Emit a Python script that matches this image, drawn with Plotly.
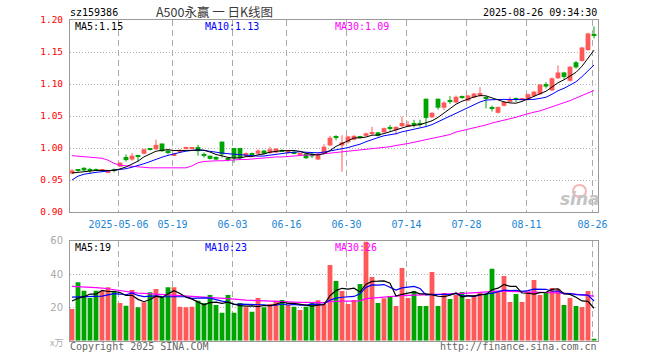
import numpy as np
import pandas as pd
import plotly.graph_objects as go

# ---------------- data ----------------
opens = [0.960, 0.9655, 0.969, 0.9655, 0.9665, 0.9645, 0.962, 0.9655, 0.971, 0.986,
         0.982, 0.988, 0.991, 1.000, 0.998, 1.007, 0.996, 0.989, 0.995, 1.000,
         0.9995, 1.0015, 0.990, 0.988, 0.986, 1.010, 0.9835, 1.000, 1.000, 0.987,
         0.9915, 0.991, 0.996, 0.992, 0.993, 0.9965, 0.992, 0.994, 0.9905, 0.991,
         0.991, 0.982, 0.992, 1.004, 1.0175, 1.004, 1.009, 1.013, 1.0175, 1.019,
         1.0225, 1.0245, 1.0245, 1.0315, 1.028, 1.034, 1.034, 1.038, 1.038, 1.077,
         1.048, 1.077, 1.063, 1.074, 1.071, 1.0795, 1.074, 1.079, 1.0835, 1.0785,
         1.0635, 1.055, 1.066, 1.072, 1.0765, 1.0755, 1.076, 1.081, 1.084, 1.100,
         1.090, 1.109, 1.118, 1.105, 1.134, 1.136, 1.153, 1.178]
closes = [0.965, 0.9645, 0.965, 0.9645, 0.9655, 0.9655, 0.964, 0.9645, 0.977, 0.981,
          0.988, 0.987, 0.998, 0.997, 1.005, 0.995, 0.992, 0.991, 0.997, 1.001,
          1.0005, 0.995, 0.989, 0.983, 0.982, 0.990, 0.9825, 0.984, 0.984, 0.992,
          0.9905, 0.996, 0.991, 0.998, 0.999, 0.9955, 0.996, 0.992, 0.9915, 0.984,
          0.987, 0.991, 1.002, 1.016, 1.0165, 1.009, 1.018, 1.019, 1.0165, 1.023,
          1.0235, 1.019, 1.031, 1.0305, 1.033, 1.039, 1.037, 1.037, 1.037, 1.047,
          1.055, 1.063, 1.071, 1.073, 1.080, 1.0785, 1.082, 1.085, 1.0845, 1.0775,
          1.0625, 1.064, 1.072, 1.076, 1.0755, 1.0765, 1.084, 1.088, 1.099, 1.096,
          1.109, 1.118, 1.111, 1.127, 1.126, 1.157, 1.179, 1.175]
highs = [0.967, 0.967, 0.970, 0.969, 0.968, 0.966, 0.965, 0.968, 0.978, 0.990,
         0.992, 0.988, 0.999, 1.000, 1.013, 1.007, 0.998, 0.992, 0.998, 1.002,
         1.001, 1.005, 0.993, 0.988, 0.987, 1.010, 0.986, 1.000, 1.000, 0.993,
         0.993, 0.998, 0.997, 1.002, 1.000, 0.998, 0.997, 0.995, 0.992, 0.992,
         0.992, 0.992, 1.006, 1.019, 1.020, 1.020, 1.019, 1.020, 1.019, 1.024,
         1.033, 1.025, 1.032, 1.036, 1.034, 1.049, 1.042, 1.044, 1.044, 1.077,
         1.056, 1.077, 1.073, 1.081, 1.082, 1.082, 1.083, 1.086, 1.095, 1.081,
         1.066, 1.065, 1.073, 1.080, 1.079, 1.078, 1.085, 1.089, 1.100, 1.103,
         1.110, 1.129, 1.119, 1.128, 1.136, 1.158, 1.180, 1.190]
lows = [0.959, 0.963, 0.964, 0.961, 0.964, 0.963, 0.961, 0.962, 0.970, 0.979,
        0.980, 0.979, 0.990, 0.996, 0.997, 0.994, 0.990, 0.988, 0.994, 0.999,
        0.998, 0.988, 0.985, 0.982, 0.981, 0.985, 0.979, 0.977, 0.982, 0.986,
        0.988, 0.990, 0.990, 0.991, 0.992, 0.994, 0.991, 0.991, 0.988, 0.983,
        0.984, 0.981, 0.991, 1.003, 1.012, 0.963, 1.007, 1.012, 1.015, 1.018,
        1.020, 1.018, 1.024, 1.027, 1.021, 1.033, 1.033, 1.032, 1.033, 1.033,
        1.047, 1.060, 1.059, 1.069, 1.070, 1.077, 1.073, 1.078, 1.080, 1.062,
        1.057, 1.054, 1.065, 1.071, 1.072, 1.074, 1.074, 1.080, 1.083, 1.093,
        1.089, 1.108, 1.108, 1.104, 1.124, 1.135, 1.152, 1.171]
volumes = [19, 35, 30, 25.6, 30, 30, 32, 30, 22.6, 21,
           30.4, 20, 23, 29, 31, 26, 32, 32, 20.4, 20,
           20.4, 24, 22.6, 27.4, 21.4, 16.8, 27.4, 16.8, 22.6, 20,
           17.4, 25.6, 20, 22, 24, 24.4, 21.4, 20.4, 18.4, 20.4,
           23, 24.2, 22, 45.4, 35.8, 29.8, 22, 24.4, 34, 59.4,
           38.2, 22.6, 25.4, 26.8, 20.8, 43.6, 25.6, 29.8, 20.8, 20.8,
           41.2, 20.8, 28.6, 25, 27.4, 29.2, 25, 27.4, 29.2, 28,
           43.2, 29.8, 38.8, 23.2, 28, 23.2, 29.2, 36.4, 27.4, 29.2,
           31.6, 31.2, 21.4, 25.6, 20.8, 20.2, 29.8, 1]

ma5_head = [0.961, 0.962, 0.964, 0.965]
ma10_head = [0.950, 0.956, 0.959, 0.961, 0.962, 0.963, 0.964, 0.965, 0.966]
ma30 = [0.988, 0.987, 0.987, 0.986, 0.985, 0.984, 0.981, 0.976, 0.973, 0.972,
        0.971, 0.970, 0.969, 0.969, 0.969, 0.969, 0.969, 0.969, 0.969, 0.969,
        0.972, 0.977, 0.979, 0.980, 0.980, 0.980, 0.981, 0.981, 0.982, 0.982,
        0.983, 0.983, 0.984, 0.985, 0.986, 0.986, 0.987, 0.988, 0.988, 0.989,
        0.989, 0.990, 0.990, 0.991, 0.992, 0.993, 0.994, 0.995, 0.996, 0.997,
        0.998, 0.999, 1.000, 1.002, 1.004, 1.005, 1.007, 1.009, 1.011, 1.013,
        1.015, 1.017, 1.019, 1.021, 1.025, 1.027, 1.030, 1.032, 1.034, 1.036,
        1.039, 1.041, 1.043, 1.045, 1.048, 1.051, 1.054, 1.056, 1.058, 1.061,
        1.064, 1.067, 1.070, 1.074, 1.078, 1.082, 1.086, 1.090]
vol_ma5_head = [23.8, 25.5, 26.4, 28.0]
vol_ma10_head = [26.2, 26.3, 26.4, 26.5, 26.6, 26.8, 27.5, 28.2, 28.0]
vol_ma30 = [32.6, 32.5, 32.4, 32.3, 31.9, 31.6, 31.1, 30.6, 30.0, 29.4,
            28.9, 28.6, 28.4, 28.2, 28.0, 27.8, 27.6, 27.3, 27.1, 26.8,
            26.6, 26.4, 26.2, 26.0, 25.8, 25.5, 25.2, 24.9, 24.5, 24.3,
            24.2, 24.0, 23.8, 23.7, 23.5, 23.4, 23.3, 23.2, 23.0, 23.0,
            22.9, 22.9, 22.8, 23.5, 23.8, 23.8, 23.8, 23.8, 23.9, 25.2,
            25.6, 25.8, 26.2, 26.5, 26.8, 27.0, 27.1, 27.2, 27.3, 27.4,
            27.6, 27.7, 27.9, 28.0, 28.2, 28.4, 28.6, 28.9, 29.2, 29.5,
            29.8, 29.8, 29.7, 29.6, 29.5, 29.5, 29.4, 29.3, 29.2, 29.0,
            28.9, 28.8, 28.5, 28.2, 27.9, 27.6, 27.3, 26.8]

tick_index = [8, 17, 27, 36, 46, 56, 66, 76, 87]
tick_labels = ["2025-05-06", "05-19", "06-03", "06-16", "06-30",
               "07-14", "07-28", "08-11", "08-26"]
price_ticks = [0.90, 0.95, 1.00, 1.05, 1.10, 1.15, 1.20]
vol_ticks = [20, 40, 60]

code = "sz159386"
title = "A500永赢 一 日K线图"
stamp = "2025-08-26 09:34:30"

# ---------------- derived ----------------
o = np.array(opens); c = np.array(closes); h = np.array(highs); l = np.array(lows)
v = np.array(volumes, dtype=float)
n = len(c)
idx = np.arange(n)
up = c >= o

ma5 = pd.Series(c).rolling(5).mean().to_numpy(); ma5[:4] = ma5_head
ma10 = pd.Series(c).rolling(10).mean().to_numpy(); ma10[:9] = ma10_head
vma5 = pd.Series(v).rolling(5).mean().to_numpy(); vma5[:4] = vol_ma5_head
vma10 = pd.Series(v).rolling(10).mean().to_numpy(); vma10[:9] = vol_ma10_head

RED = "#ff5858"
GREEN = "#00a400"
MONO = "DejaVu Sans Mono"

W, H = 660, 360
X0, X1 = 70, 598
PY0, PY1 = 20, 212
VY0, VY1 = 240.7, 340.7

fig = go.Figure()

# wicks
for mask, col in ((up, RED), (~up, GREEN)):
    xs, ys = [], []
    for i in idx[mask]:
        xs += [i, i, None]
        ys += [l[i], h[i], None]
    fig.add_trace(go.Scatter(x=xs, y=ys, mode="lines", line=dict(color=col, width=1),
                             hoverinfo="skip", xaxis="x", yaxis="y"))

# bodies
minh = 0.0016
body = np.abs(c - o)
bh = np.maximum(body, minh)
mid = (c + o) / 2
base = mid - bh / 2
for mask, col in ((up, RED), (~up, GREEN)):
    fig.add_trace(go.Bar(x=idx[mask], y=bh[mask], base=base[mask], width=0.8,
                         marker=dict(color=col, line=dict(width=0)),
                         xaxis="x", yaxis="y"))

# price MAs
for arr, col in ((ma30, "#ff00ff"), (ma10, "#0000ff"), (ma5, "#000000")):
    fig.add_trace(go.Scatter(x=idx, y=arr, mode="lines", line=dict(color=col, width=1),
                             xaxis="x", yaxis="y"))

# volume bars
for mask, col in ((up, RED), (~up, GREEN)):
    fig.add_trace(go.Bar(x=idx[mask], y=v[mask], width=0.8,
                         marker=dict(color=col, line=dict(width=0)),
                         xaxis="x2", yaxis="y2"))
for arr, col in ((vol_ma30, "#ff00ff"), (vma10, "#0000ff"), (vma5, "#000000")):
    fig.add_trace(go.Scatter(x=idx, y=arr, mode="lines", line=dict(color=col, width=1.2),
                             xaxis="x2", yaxis="y2"))

xr = [-(72 - X0) / 6, (X1 - 72) / 6]
xdom = [X0 / W, X1 / W]
grid_x = [t - 0.25 for t in tick_index]

axis_common = dict(showline=True, linecolor="#9a9a9a", linewidth=1, mirror=True,
                   zeroline=False, ticks="", fixedrange=True, automargin=False)

fig.update_layout(
    width=W, height=H,
    margin=dict(l=0, r=0, t=0, b=0, autoexpand=False),
    paper_bgcolor="white", plot_bgcolor="white",
    showlegend=False, barmode="overlay", hovermode=False,
    xaxis=dict(domain=xdom, range=xr, anchor="y",
               tickvals=grid_x, ticktext=tick_labels,
               tickfont=dict(family=MONO, size=10, color="#1a86d6"),
               ticklabelstandoff=3,
               showgrid=True, gridcolor="#aaaaaa", gridwidth=1, griddash="6px,4px",
               **axis_common),
    yaxis=dict(domain=[1 - PY1 / H, 1 - PY0 / H], range=[0.90, 1.20], anchor="x",
               tickvals=price_ticks, ticktext=[f"{t:.2f}" for t in price_ticks],
               tickfont=dict(family=MONO, size=9.5, color="#ff0000"),
               ticklabelstandoff=4,
               showgrid=True, gridcolor="#b0b0b0", gridwidth=1, griddash="1px,2px",
               **axis_common),
    xaxis2=dict(domain=xdom, range=xr, anchor="y2",
                tickvals=grid_x, showticklabels=False,
                showgrid=True, gridcolor="#aaaaaa", gridwidth=1, griddash="6px,4px",
                **axis_common),
    yaxis2=dict(domain=[1 - VY1 / H, 1 - VY0 / H], range=[0, 60], anchor="x2",
                tickvals=vol_ticks, ticktext=[str(t) for t in vol_ticks],
                tickfont=dict(family="DejaVu Sans", size=10, color="#aaaaaa"),
                ticklabelstandoff=4,
                showgrid=True, gridcolor="#b0b0b0", gridwidth=1, griddash="1px,2px",
                **axis_common),
)


def ann(text, px, py, xa="left", color="#000000", size=10, family=MONO, **kw):
    fig.add_annotation(text=text, x=px / W, y=1 - py / H, xref="paper", yref="paper",
                       xanchor=xa, yanchor="middle", showarrow=False,
                       font=dict(family=family, size=size, color=color, **kw),
                       borderpad=0)


ann(code, 69, 12.5)
ann(title, 214, 11.5, xa="center", color="#3a3a3a", size=12.5, family="Noto Sans CJK SC")
ann(stamp, 598, 12.5, xa="right")
ann(f"MA5:{ma5[-1]:.2f}", 74, 26.5)
ann(f"MA10:{ma10[-1]:.2f}", 204, 26.5, color="#0000ff")
ann(f"MA30:{ma30[-1]:.2f}", 334, 26.5, color="#ff00ff")
ann(f"MA5:{int(vma5[-1])}", 74, 247)
ann(f"MA10:{int(vma10[-1])}", 204, 247, color="#0000ff")
ann(f"MA30:{int(vol_ma30[-1])}", 334, 247, color="#ff00ff")
ann("x万", 64, 342, xa="right", color="#aaaaaa", size=9, family="Noto Sans CJK SC")
ann("Copyright 2025 SINA.COM", 69, 346, color="#666666")
ann("http://finance.sina.com.cn", 598, 346, xa="right", color="#666666")

# sina watermark
fig.add_shape(type="circle", xref="paper", yref="paper",
              x0=573 / W, x1=586 / W, y0=1 - 197 / H, y1=1 - 185 / H,
              line=dict(color="#f4b4b4", width=2))
ann("sina", 580, 199, xa="center", color="#c4c4c4", size=17,
    family="DejaVu Sans", weight="bold", style="italic")

fig.write_html(
    "out.html",
    config={"displayModeBar": False},
    post_script=(
        "document.documentElement.style.margin='0';"
        "document.documentElement.style.padding='0';"
        "document.documentElement.style.overflow='hidden';"
        "document.body.style.margin='0';"
        "document.body.style.padding='0';"
        "document.body.style.overflow='hidden';"
    ),
)
